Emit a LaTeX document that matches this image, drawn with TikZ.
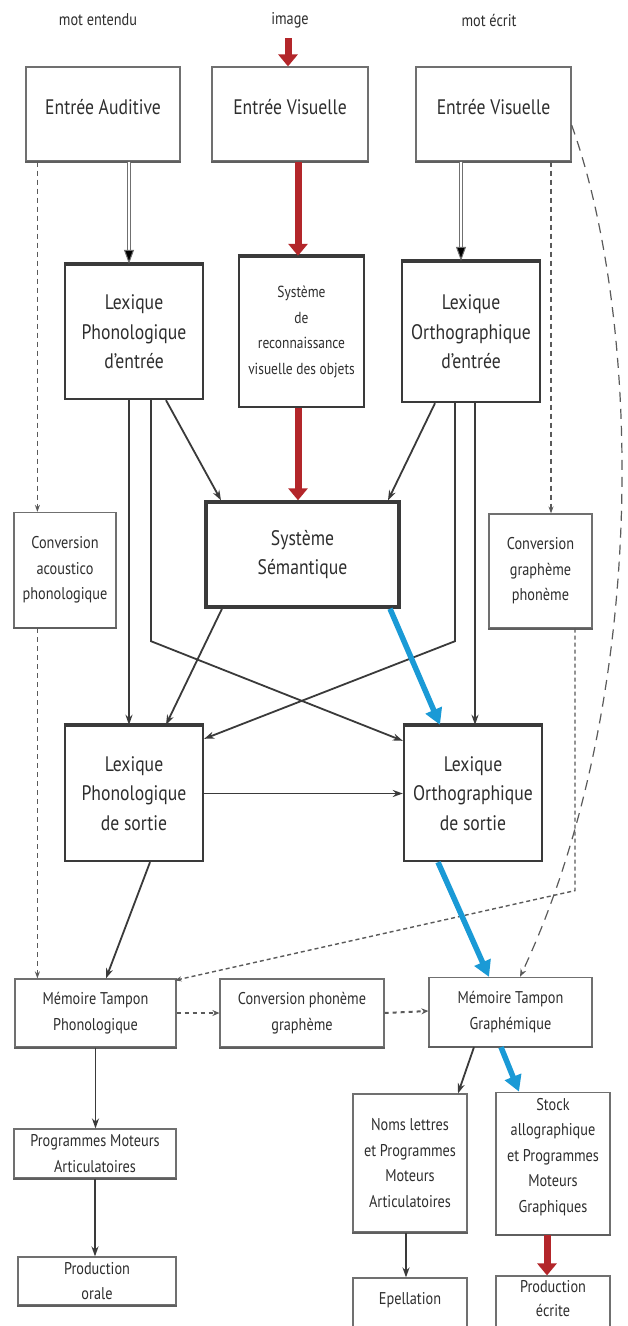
\documentclass[tikz,border=0pt]{standalone}
\usepackage{fontspec}
\setmainfont{PT Sans}[FakeStretch=0.84]
\usetikzlibrary{arrows.meta,calc}

\definecolor{redarr}{HTML}{B3262A}
\definecolor{bluearr}{HTML}{1A9AD6}
\definecolor{txt}{HTML}{2E2E2E}
\definecolor{frame}{HTML}{707070}
\definecolor{dark}{HTML}{3A3A3A}

% add invisible depth below a text so that it sits higher in its frame
\newcommand\liftup[2]{\raisebox{0pt}[\height][\dimexpr\depth+#1\relax]{#2}}

\tikzset{
  box/.style={draw=frame, line width=1.2pt, fill=white, inner sep=0pt, align=center, text=txt},
  bigbox/.style={box, draw=dark, line width=2.4pt},
  sembox/.style={box, draw=dark, line width=3.4pt},
  fbig/.style={font=\fontsize{21}{29.5}\selectfont},
  fmid/.style={font=\fontsize{21}{28}\selectfont},
  fsmall/.style={font=\fontsize{17}{25.5}\selectfont},
  lab/.style={text=txt, font=\fontsize{17}{20}\selectfont, inner sep=1pt},
  topedge/.style={draw=dark, line width=4pt},
  bottomedge/.style={draw=frame!85!black, line width=2.2pt},
  arr/.style={draw=dark, line width=1.8pt, -{Stealth[length=10pt,width=7pt]}},
  redarr/.style={draw=redarr, line width=7pt, -{Triangle[length=12pt,width=19pt]}},
  bluearr/.style={draw=bluearr, line width=5.5pt, -{Triangle[length=16pt,width=17pt]}},
  dbl/.style={draw=frame, double=white, double distance=2.6pt, line width=1pt,
              -{Triangle[length=14pt,width=10pt,fill=black]}},
  dsh/.style={draw=frame!80!black, line width=1.2pt, dash pattern=on 5pt off 4pt,
              -{Stealth[length=7pt,width=5pt]}},
  longdsh/.style={draw=frame!80!black, line width=1.2pt, dash pattern=on 10pt off 7pt,
              -{Stealth[length=8pt,width=6pt]}},
  finedsh/.style={draw=frame!80!black, line width=1.4pt, dash pattern=on 4pt off 3pt,
              -{Stealth[length=7pt,width=5pt]}},
  dotarr/.style={draw=frame!80!black, line width=2pt, dash pattern=on 4pt off 4pt,
              -{Stealth[length=7pt,width=6pt]}},
}

\begin{document}
\begin{tikzpicture}[x=1pt, y=-1pt]
\useasboundingbox (0,0) rectangle (627,1326);
\fill[white] (0,0) rectangle (627,1326);

% inputs
\node[lab] (lab1) at (98,20) {mot entendu};
\node[lab] (lab2) at (290,20) {image};
\node[lab] (lab3) at (489,20) {mot écrit};

\node[box, fmid, minimum width=154, minimum height=94] (ea) at (103,114) {\liftup{13pt}{Entrée Auditive}};
\node[box, fmid, minimum width=156, minimum height=94] (ev) at (290,114) {\liftup{13pt}{Entrée Visuelle}};
\node[box, fmid, minimum width=155, minimum height=94] (ev2) at (493.5,114) {\liftup{13pt}{Entrée Visuelle}};

% input lexicons
\node[bigbox, fbig, minimum width=138, minimum height=134] (lpe) at (134,332) {Lexique\\Phonologique\\d’entrée};
\node[bigbox, fsmall, minimum width=125, minimum height=150, font=\fontsize{16}{25.5}\selectfont] (svo) at (301.5,332) {Système\\de\\reconnaissance\\visuelle des objets};
\node[bigbox, fbig, minimum width=138, minimum height=140] (loe) at (471,332) {Lexique\\Orthographique\\d’entrée};

% semantic system and conversions
\node[box, fsmall, minimum width=102, minimum height=115] (cap) at (65,570) {Conversion\\acoustico\\phonologique};
\node[sembox, fbig, minimum width=193, minimum height=105] (sem) at (302.5,554.5) {Système\\Sémantique};
\node[box, fsmall, minimum width=103, minimum height=114] (cgp) at (540.5,571) {Conversion\\graphème\\phonème};

% output lexicons
\node[bigbox, fbig, minimum width=138, minimum height=135] (lps) at (134,793.5) {Lexique\\Phonologique\\de sortie};
\node[bigbox, fbig, minimum width=138, minimum height=135] (los) at (473,793.5) {Lexique\\Orthographique\\de sortie};

% buffers
\node[box, fsmall, minimum width=161, minimum height=68] (mtp) at (95.5,1013) {Mémoire Tampon\\Phonologique};
\node[box, fsmall, minimum width=164, minimum height=68] (cpg) at (302,1013) {Conversion phonème\\graphème};
\node[box, fsmall, minimum width=163, minimum height=69] (mtg) at (510.5,1012) {Mémoire Tampon\\Graphémique};

% outputs
\node[box, fsmall, minimum width=162, minimum height=49] (pma) at (95,1153.5) {Programmes Moteurs\\Articulatoires};
\node[box, fsmall, minimum width=158, minimum height=48] (po) at (97,1281) {Production\\orale};
\node[box, fsmall, minimum width=114, minimum height=138] (nl) at (410,1163) {Noms lettres\\et Programmes\\Moteurs\\Articulatoires};
\node[box, fsmall, minimum width=114, minimum height=139] (sa) at (553,1163.5) {\liftup{15pt}{\begin{tabular}{@{}c@{}}Stock\\allographique\\et Programmes\\Moteurs\\Graphiques\end{tabular}}};
\node[box, fsmall, minimum width=114, minimum height=68] (ep) at (410,1312) {\liftup{24pt}{Epellation}};
\node[box, fsmall, minimum width=114, minimum height=66] (pe) at (553,1313) {\liftup{26pt}{\fontsize{17}{24}\selectfont\begin{tabular}{@{}c@{}}Production\\écrite\end{tabular}}};

% heavier frame edges
\foreach \n in {lpe,svo,loe,lps,los}
  \draw[topedge] (\n.north west) -- (\n.north east);
\foreach \n in {ea,ev,ev2,cap,cgp,mtp,cpg,mtg,pma,po,nl,sa}
  \draw[bottomedge] (\n.south west) -- (\n.south east);

% picture route (red)
\draw[redarr, shorten <=9pt] ([xshift=-2]lab2.south) -- ([xshift=-2]ev.north);
\draw[redarr] ([xshift=-3.5]svo.north |- ev.south) -- ([xshift=-3.5]svo.north);
\draw[redarr] ([xshift=-3.5]svo.south) -- ([xshift=-3.5]svo.south |- sem.north);
\draw[redarr] ([xshift=-6]sa.south) -- ([xshift=-6]sa.south |- pe.north);

% input to lexicons (double)
\draw[dbl] ([xshift=-5]lpe.north |- ea.south) -- ([xshift=-5]lpe.north);
\draw[dbl] ([xshift=-10]loe.north |- ev2.south) -- ([xshift=-10]loe.north);

% sublexical dashed routes
\draw[dsh] ([xshift=12]ea.south west) -- ([xshift=12]ea.south west |- cap.north);
\draw[dsh] ([xshift=12]ea.south west |- cap.south) -- ([xshift=12]ea.south west |- mtp.north);
\draw[dsh] ([xshift=10.5]cgp.north |- ev2.south) -- ([xshift=10.5]cgp.north);
\draw[finedsh] ([xshift=34.5]cgp.south) -- ++(0,262) -- ([xshift=-2,yshift=-2]mtp.north east);
\draw[longdsh] ([yshift=-11]ev2.east) .. controls (642,320) and (650,700) .. ([xshift=9.5]mtg.north);

% lexical routes
\draw[arr] ([xshift=32]lpe.south) -- ([xshift=-81.5]sem.north);
\draw[arr] ([xshift=-36]loe.south) -- ([xshift=85.5]sem.north);
\draw[arr] ([xshift=-5]lpe.south) -- ([xshift=-5]lps.north);
\draw[arr] ([xshift=4]loe.south) -- ([xshift=4]loe.south |- los.north);
\draw[arr] ([xshift=17]lpe.south) -- ++(0,241) -- ([yshift=-16]los.north west);
\draw[arr] ([xshift=-16]loe.south) -- ++(0,238) -- ([yshift=-14]lps.north east);
\draw[arr] ([xshift=-80.5]sem.south) -- ([xshift=32]lps.north);
\draw[bluearr] ([xshift=87.5]sem.south) -- ([xshift=-33]los.north);
\draw[arr] (lps.east) -- (los.west);

% to buffers
\draw[arr] ([xshift=16]lps.south) -- ([xshift=10.5]mtp.north);
\draw[bluearr] ([xshift=-35]los.south) -- ([xshift=-21.5]mtg.north);
\draw[dotarr] (mtp.east) -- (cpg.west);
\draw[dotarr] (cpg.east) -- ([yshift=1]mtg.west);

% to outputs
\draw[arr] (mtp.south) -- (mtp.south |- pma.north);
\draw[arr] (pma.south) -- (pma.south |- po.north);
\draw[arr] ([xshift=-36.5]mtg.south) -- ([xshift=48]nl.north);
\draw[bluearr] ([xshift=-9.5]mtg.south) -- ([xshift=-34]sa.north);
\draw[arr] ([xshift=-4]nl.south) -- ([xshift=-4]ep.north);
\end{tikzpicture}
\end{document}
